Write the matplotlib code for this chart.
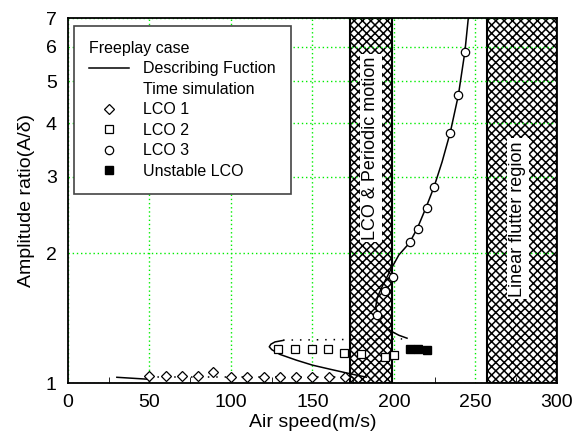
import numpy as np
import matplotlib
matplotlib.use('Agg')
import matplotlib.pyplot as plt
from matplotlib.lines import Line2D
from matplotlib.ticker import FixedLocator, NullFormatter, MultipleLocator

plt.rcParams['font.family'] = ['Liberation Sans', 'DejaVu Sans']
plt.rcParams['hatch.linewidth'] = 1.1

# time simulation results
lco1_v = [50, 60, 70, 80, 89, 100, 110, 120, 130, 140, 150, 160, 170]
lco1_a = [1.04, 1.04, 1.04, 1.04, 1.058, 1.035, 1.035, 1.035, 1.035, 1.035, 1.035, 1.035, 1.035]
lco2_v = [129, 139.5, 149.5, 159.5, 169.5, 179.5, 194.5, 200]
lco2_a = [1.20, 1.20, 1.20, 1.20, 1.175, 1.165, 1.15, 1.16]
lco3_v = [189.7, 194.4, 199.5, 209.7, 214.5, 220, 224.8, 234.4, 239.5, 243.4]
lco3_a = [1.44, 1.63, 1.76, 2.12, 2.27, 2.54, 2.84, 3.80, 4.64, 5.85]
unst_v = [210, 215, 220]
unst_a = [1.20, 1.20, 1.19]

# describing function branches
df_low_v = [30, 50, 50]
df_low_a = [1.031, 1.02, 1.0]
df_low_dot_v = [50, 175]
df_low_dot_a = [1.035, 1.035]
df_mid_v = [132, 127, 124.5, 123.5, 125, 130, 140, 150, 160, 170, 177, 183]
df_mid_a = [1.255, 1.245, 1.23, 1.213, 1.195, 1.165, 1.13, 1.10, 1.078, 1.057, 1.043, 1.032]
df_mid_dot_v = [132, 205]
df_mid_dot_a = [1.257, 1.265]
df_up_v = [245.6, 243.5, 239.5, 234.5, 229.5, 224.5, 219.5, 214.5, 209.5, 203, 198,
           193, 189.8, 188.8, 190, 193, 198, 203, 208]
df_up_a = [7.0, 5.85, 4.64, 3.80, 3.25, 2.84, 2.54, 2.29, 2.11, 1.98, 1.83,
           1.68, 1.58, 1.50, 1.43, 1.37, 1.32, 1.29, 1.27]

# regions
lco_region = (173, 198.5)
flutter_region = (257, 300)

fig = plt.figure(figsize=(5.76, 4.4), dpi=100)
ax = fig.add_axes([0.118, 0.1295, 0.849, 0.8295])

for lo, hi in [lco_region, flutter_region]:
    ax.axvspan(lo, hi, facecolor='white', edgecolor='black', hatch='xxxx',
               linewidth=1.5, zorder=0.4)

ax.plot(df_low_v, df_low_a, color='black', lw=1.1)
ax.plot(df_low_dot_v, df_low_dot_a, color='black', lw=1.1, linestyle=(0, (1, 4.5)))
ax.plot(df_mid_v, df_mid_a, color='black', lw=1.1)
ax.plot(df_mid_dot_v, df_mid_dot_a, color='black', lw=1.1, linestyle=(0, (1, 4.5)))
ax.plot(df_up_v, df_up_a, color='black', lw=1.1)

mk = dict(linestyle='none', markerfacecolor='white', markeredgecolor='black',
          markeredgewidth=0.9)
ax.plot(lco1_v, lco1_a, marker='D', markersize=5.5, **mk)
ax.plot(lco2_v, lco2_a, marker='s', markersize=6, **mk)
ax.plot(lco3_v, lco3_a, marker='o', markersize=6, **mk)
ax.plot(unst_v, unst_a, marker='s', markersize=6, linestyle='none', color='black')

ax.set_yscale('log')
ax.set_xlim(0, 300)
ax.set_ylim(1, 7)
yt = [1, 2, 3, 4, 5, 6, 7]
ax.yaxis.set_major_locator(FixedLocator(yt))
ax.set_yticklabels([str(v) for v in yt])
ax.yaxis.set_minor_locator(FixedLocator([]))
ax.yaxis.set_minor_formatter(NullFormatter())
ax.xaxis.set_major_locator(MultipleLocator(50))
ax.xaxis.set_minor_locator(MultipleLocator(25))
ax.tick_params(axis='both', which='both', direction='in', labelsize=14)
ax.tick_params(axis='x', which='major', length=0, pad=8)
ax.tick_params(axis='x', which='minor', length=4)
ax.tick_params(axis='y', which='major', length=0, pad=8)

ax.set_axisbelow(True)
ax.grid(True, color='#00ee00', linestyle=(0, (1, 2)), linewidth=1.0)
ax.grid(False, which='minor')

for s in ax.spines.values():
    s.set_linewidth(1.3)

ax.set_xlabel('Air speed(m/s)', fontsize=14, labelpad=2)
ax.set_ylabel('Amplitude ratio(A/δ)', fontsize=14, labelpad=8)

box = dict(facecolor='white', edgecolor='none', pad=2)
ax.text(sum(lco_region) / 2, 3.5, 'LCO & Periodic motion', rotation=90,
        ha='center', va='center', fontsize=13, bbox=box, zorder=3)
ax.text(276, 2.4, 'Linear flutter region', rotation=90,
        ha='center', va='center', fontsize=13, bbox=box, zorder=3)

handles = [
    Line2D([], [], color='black', lw=1.1),
    Line2D([], [], linestyle='none'),
    Line2D([], [], marker='D', markersize=5.5, **mk),
    Line2D([], [], marker='s', markersize=6, **mk),
    Line2D([], [], marker='o', markersize=6, **mk),
    Line2D([], [], marker='s', markersize=6, linestyle='none', color='black'),
]
labels = ['Describing Fuction', 'Time simulation', 'LCO 1', 'LCO 2', 'LCO 3', 'Unstable LCO']
leg = ax.legend(handles, labels, title='Freeplay case', alignment='left',
                loc='upper left', bbox_to_anchor=(0.0125, 0.9785), fontsize=11.5,
                title_fontsize=11.5, fancybox=False, framealpha=1, edgecolor='#444444',
                labelspacing=0.34, handlelength=2.5, handletextpad=0.85,
                borderaxespad=0, borderpad=0.95)
leg.get_frame().set_linewidth(1.2)
leg.set_zorder(5)

fig.savefig('out.png', dpi=100)
